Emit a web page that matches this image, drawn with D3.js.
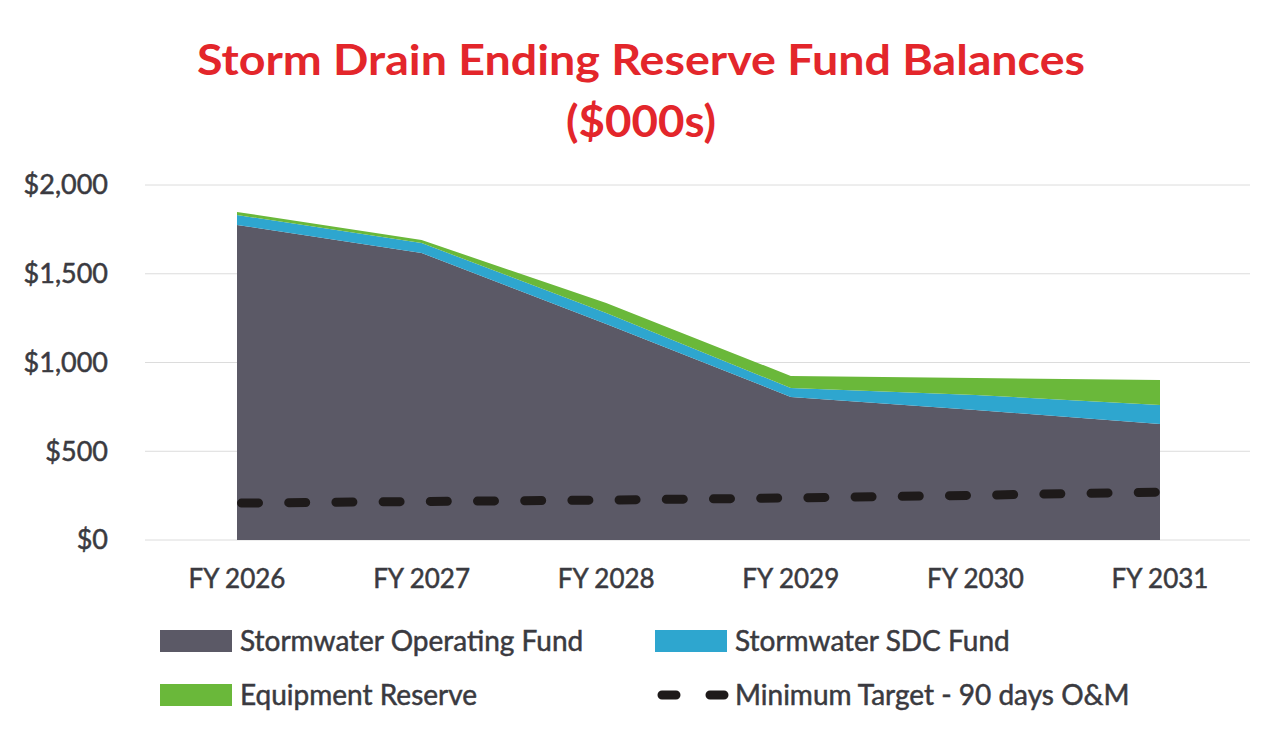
<!DOCTYPE html>
<html>
<head>
<meta charset="utf-8">
<script src="https://cdn.jsdelivr.net/npm/d3@7"></script>
<style>
  body { margin: 0; background: #fff; }
  svg text { font-family: Lato, "Open Sans", sans-serif; }
  .lbl { fill: #3a3a40; stroke: #3a3a40; stroke-width: 0.5px; }
</style>
</head>
<body>
<svg width="1280" height="733"></svg>
<script>
var years = ["FY 2026", "FY 2027", "FY 2028", "FY 2029", "FY 2030", "FY 2031"];
var operating = [1775, 1617, 1217, 806, 732, 654];
var sdc = [56, 56, 62, 50, 85, 107];
var equipment = [17, 17, 56, 68, 96, 140];
var minTarget = [208, 217, 225, 237, 252, 270];
var yTicks = [0, 500, 1000, 1500, 2000];

var colors = { op: "#5b5966", sdc: "#2ea6cf", eq: "#6ab83a", line: "#1e1a1a" };

var svg = d3.select("svg");

var x = d3.scalePoint().domain(years).range([237, 1160]);
var y = d3.scaleLinear().domain([0, 2000]).range([540, 185]);

// title
svg.append("text")
    .attr("x", 641).attr("y", 75)
    .attr("text-anchor", "middle")
    .attr("font-size", 42).attr("font-weight", "bold")
    .attr("fill", "#e3262b")
    .attr("textLength", 888).attr("lengthAdjust", "spacingAndGlyphs")
    .text("Storm Drain Ending Reserve Fund Balances");
svg.append("text")
    .attr("x", 641).attr("y", 137)
    .attr("text-anchor", "middle")
    .attr("font-size", 44).attr("font-weight", "bold")
    .attr("fill", "#e3262b")
    .attr("textLength", 150).attr("lengthAdjust", "spacingAndGlyphs")
    .text("($000s)");

// gridlines + y labels
svg.append("g").selectAll("line")
    .data(yTicks).enter().append("line")
    .attr("x1", 145).attr("x2", 1250)
    .attr("y1", function(d) { return y(d); })
    .attr("y2", function(d) { return y(d); })
    .attr("stroke", "#dcdcdc").attr("stroke-width", 1);

svg.append("g").selectAll("text")
    .data(yTicks).enter().append("text")
    .attr("class", "lbl")
    .attr("x", 108)
    .attr("y", function(d) { return y(d); })
    .attr("dy", "0.35em")
    .attr("text-anchor", "end")
    .attr("font-size", 27)
    .text(function(d) { return "$" + d3.format(",")(d); });

// stacked areas
var table = years.map(function(yr, i) {
  return { year: yr, op: operating[i], sdc: sdc[i], eq: equipment[i] };
});
var stack = d3.stack().keys(["op", "sdc", "eq"]);
var series = stack(table);

var area = d3.area()
    .x(function(d) { return x(d.data.year); })
    .y0(function(d) { return y(d[0]); })
    .y1(function(d) { return y(d[1]); });

svg.append("g").selectAll("path")
    .data(series).enter().append("path")
    .attr("d", area)
    .attr("fill", function(d) { return colors[d.key]; });

// minimum target line
var line = d3.line()
    .x(function(d, i) { return x(years[i]); })
    .y(function(d) { return y(d); });

svg.append("path")
    .datum(minTarget)
    .attr("d", line)
    .attr("fill", "none")
    .attr("stroke", colors.line)
    .attr("stroke-width", 9)
    .attr("stroke-linecap", "round")
    .attr("stroke-dasharray", "17,30.2")
    .attr("stroke-dashoffset", -4.5);

// x labels
svg.append("g").selectAll("text")
    .data(years).enter().append("text")
    .attr("class", "lbl")
    .attr("x", function(d) { return x(d); })
    .attr("y", 588)
    .attr("text-anchor", "middle")
    .attr("font-size", 26)
    .text(function(d) { return d; });

// legend
var legend = [
  { label: "Stormwater Operating Fund", color: colors.op, x: 160, y: 641 },
  { label: "Stormwater SDC Fund", color: colors.sdc, x: 655, y: 641 },
  { label: "Equipment Reserve", color: colors.eq, x: 160, y: 695 },
  { label: "Minimum Target - 90 days O&M", color: colors.line, x: 655, y: 695, dash: true }
];

var lg = svg.append("g").selectAll("g")
    .data(legend).enter().append("g")
    .attr("transform", function(d) { return "translate(" + d.x + "," + d.y + ")"; });

lg.filter(function(d) { return !d.dash; }).append("rect")
    .attr("x", 0).attr("y", -11)
    .attr("width", 72).attr("height", 22)
    .attr("fill", function(d) { return d.color; });

lg.filter(function(d) { return d.dash; }).append("line")
    .attr("x1", 7).attr("x2", 69)
    .attr("y1", 0).attr("y2", 0)
    .attr("stroke", colors.line)
    .attr("stroke-width", 9)
    .attr("stroke-linecap", "round")
    .attr("stroke-dasharray", "14,34");

lg.append("text")
    .attr("class", "lbl")
    .attr("x", 80).attr("y", 0)
    .attr("dy", "0.35em")
    .attr("font-size", 28)
    .text(function(d) { return d.label; });
</script>
</body>
</html>
